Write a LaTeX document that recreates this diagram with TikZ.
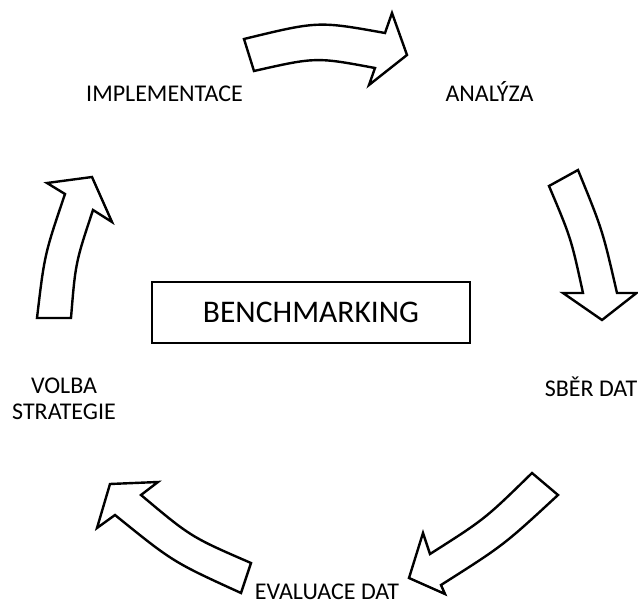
\documentclass[tikz,border=0pt]{standalone}
\usepackage{fontspec}
\setmainfont{Carlito}
\begin{document}
\begin{tikzpicture}[x=1pt,y=-1pt,
  bigarrow/.style={draw=black,line width=2.4pt,line join=miter,fill=white},
  lbl/.style={font=\fontsize{24}{26}\selectfont,inner sep=0pt,anchor=base},
  lbltwo/.style={lbl,align=center},
  titlebox/.style={draw=black,line width=2pt,minimum width=318pt,minimum height=61pt,inner sep=0pt,font=\fontsize{31.5}{36}\selectfont}
]
\useasboundingbox (0,0) rectangle (638,604);

% centre box
\node[titlebox] (bench) at (311,312.5) {BENCHMARKING};

% labels
\node[lbl] (impl) at (164.5,102) {IMPLEMENTACE};
\node[lbl] (anal) at (489.5,102) {ANALÝZA};
\node[lbl] (sber) at (591,397) {SBĚR DAT};
\node[lbltwo] (volba) at (64,420) {VOLBA\\STRATEGIE};
\node[lbl] (eval) at (327,599) {EVALUACE DAT};

% top arrow (IMPLEMENTACE -> ANALYZA)
\draw[bigarrow] (244,39) .. controls (318,21) .. (385,33) -- (392,13) -- (407,55)
  -- (369,85) -- (375,68) .. controls (316,57) .. (254,71) -- cycle;

% right arrow (ANALYZA -> SBER DAT)
\draw[bigarrow] (578,170) .. controls (602.5,230) .. (617,293) -- (636.5,293) -- (602,320)
  -- (563,293) -- (583,293) .. controls (571,238) .. (549,186) -- cycle;

% bottom-right arrow (SBER DAT -> EVALUACE DAT)
\draw[bigarrow] (532,473) .. controls (485,519) .. (430,554) -- (423,533) -- (409,578)
  -- (445,594) -- (441,585) .. controls (503.6,545.3) .. (558,495) -- cycle;

% bottom-left arrow (EVALUACE DAT -> VOLBA STRATEGIE)
\draw[bigarrow] (251,563) .. controls (191,537) .. (141,495) -- (158,482) -- (110,484)
  -- (97,528) -- (115,515) .. controls (173,562) .. (241,593) -- cycle;

% left arrow (VOLBA STRATEGIE -> IMPLEMENTACE)
\draw[bigarrow] (37,318) .. controls (44.5,254.5) .. (65,194) -- (47,183) -- (92,177)
  -- (112,222) -- (93,210) .. controls (75.5,262.7) .. (71,318) -- cycle;
\end{tikzpicture}
\end{document}
